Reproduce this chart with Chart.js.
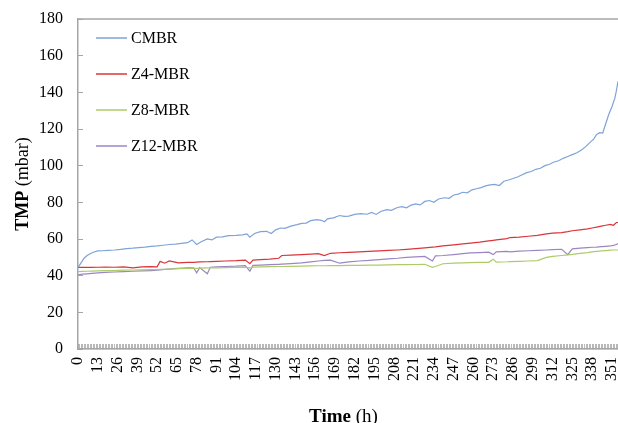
<!DOCTYPE html>
<html>
<head>
<meta charset="utf-8">
<script src="https://cdn.jsdelivr.net/npm/chart.js@4.4.1/dist/chart.umd.min.js"></script>
<style>
    html, body { margin: 0; padding: 0; background: #fff; }
    #wrap { width: 618px; height: 423px; overflow: hidden; }
    canvas { display: block; }
</style>
</head>
<body>
<div id="wrap"><canvas id="chart" width="621" height="423"></canvas></div>
<script>
// time (h) of each reading, membrane reactors
const hours = [
    0, 3, 6, 9, 13, 18, 24, 30, 36, 42,
    48, 52, 54, 57, 60, 63, 66, 72, 76, 78,
    80, 85, 87, 91, 97, 104, 110, 113, 115, 120,
    126, 132, 134, 140, 147, 153, 158, 162, 166, 172,
    178, 185, 191, 198, 204, 210, 216, 222, 228, 233,
    235, 240, 247, 253, 258, 264, 270, 273, 275, 282,
    284, 290, 296, 302, 308, 312, 318, 322, 325, 330,
    335, 338, 341, 344, 347, 350, 352, 354, 355,
];

// time (h) of each CMBR reading (noisier, read more often)
const cmbrHours = [
    0, 2, 4, 6, 8, 10, 13, 16, 20, 24,
    28, 32, 36, 40, 44, 48, 52, 56, 60, 64,
    68, 72, 75, 78, 81, 85, 88, 91, 95, 99,
    104, 108, 111, 113, 116, 120, 124, 127, 130, 133,
    136, 140, 144, 147, 150, 153, 157, 160, 162, 164,
    168, 172, 175, 178, 182, 186, 190, 193, 196, 199,
    203, 206, 210, 213, 216, 219, 222, 225, 228, 231,
    234, 237, 241, 244, 247, 250, 253, 256, 259, 262,
    265, 268, 271, 274, 277, 280, 283, 286, 289, 292,
    295, 298, 301, 304, 307, 310, 313, 316, 319, 322,
    325, 328, 331, 334, 337, 339, 341, 343, 345, 347,
    349, 351, 353, 354, 355,
];

// TMP (mbar) per reactor
const cmbr = [
    44.5, 47, 49.5, 51, 52, 52.8, 53.5, 53.6, 53.8, 54,
    54.3, 54.8, 55, 55.3, 55.6, 56, 56.2, 56.6, 57, 57.2,
    57.6, 58, 59.5, 57, 58.5, 60, 59.5, 61, 61.2, 61.8,
    62, 62.3, 62.8, 61, 63, 64, 64.2, 63, 65, 66,
    65.8, 67, 67.8, 68.5, 68.7, 70, 70.6, 70.2, 69.4, 71,
    71.5, 72.8, 72.3, 72.5, 73.4, 73.8, 73.5, 74.5, 73.4, 75,
    76, 75.6, 77.2, 77.6, 77, 78.5, 79.2, 78.6, 80.5, 81,
    80, 81.8, 82.5, 82.2, 84, 84.5, 85.5, 85.2, 86.8, 87.4,
    88, 89, 89.5, 89.8, 89.2, 91.5, 92.2, 93, 93.8, 95,
    96.2, 96.8, 98, 98.6, 100, 100.8, 102, 102.7, 104, 105,
    106, 107, 108.5, 110.5, 113, 114.5, 117, 118, 117.8, 123,
    128, 132, 137, 141, 146,
];
const z4 = [
    44.5, 44.5, 44.6, 44.5, 44.6, 44.7, 44.6, 44.8, 44.3, 44.8,
    44.9, 44.8, 47.8, 46.8, 48, 47.5, 47, 47.2, 47.3, 47.4,
    47.5, 47.6, 47.7, 47.8, 48, 48.2, 48.5, 46.5, 48.5, 48.8,
    49, 49.5, 51, 51.2, 51.5, 51.8, 52, 51, 52.2, 52.5,
    52.7, 53, 53.2, 53.5, 53.8, 54, 54.3, 54.7, 55.2, 55.6,
    55.7, 56.2, 56.8, 57.3, 57.8, 58.3, 59, 59.3, 59.5, 60.2,
    60.8, 61, 61.5, 62, 62.8, 63.2, 63.5, 64, 64.5, 65,
    65.5, 66, 66.5, 67, 67.5, 68, 67.5, 69, 69,
];
const z8 = [
    42.2, 42.3, 42.4, 42.5, 42.6, 42.7, 42.8, 43, 43.1, 43.2,
    43.3, 43.4, 43.5, 43.5, 43.6, 43.7, 43.8, 43.9, 44, 44,
    44.1, 44.2, 44.2, 44.3, 44.4, 44.5, 44.6, 44.2, 44.7, 44.8,
    44.9, 45, 45, 45.1, 45.2, 45.3, 45.4, 45.4, 45.5, 45.5,
    45.6, 45.6, 45.7, 45.8, 45.9, 46, 46, 46.1, 46.2, 44.5,
    45, 46.5, 46.8, 47, 47.1, 47.2, 47.3, 49, 47.4, 47.6,
    47.7, 47.8, 48, 48.2, 50, 50.5, 51, 51.3, 51.6, 52.2,
    52.6, 53, 53.3, 53.5, 53.7, 53.9, 54, 54, 54,
];
const z12 = [
    40.5, 40.8, 41, 41.2, 41.5, 41.8, 42, 42.2, 42.4, 42.6,
    42.8, 43, 43.2, 43.4, 43.6, 43.8, 44, 44.2, 44.3, 41.5,
    44.4, 41, 44.6, 44.8, 45, 45.2, 45.5, 42.5, 45.6, 45.8,
    46, 46.2, 46.3, 46.6, 47, 47.5, 48, 48.3, 48.5, 46.8,
    47.5, 48, 48.3, 48.8, 49.2, 49.5, 50, 50.3, 50.5, 48,
    50.8, 51, 51.5, 52, 52.4, 52.6, 52.8, 51.5, 53, 53.2,
    53, 53.4, 53.6, 53.8, 54, 54.2, 54.4, 51.5, 54.6, 55,
    55.3, 55.5, 55.6, 55.8, 56, 56.2, 56.5, 57, 57.5,
];

const seriesNames = ['CMBR', 'Z4-MBR', 'Z8-MBR', 'Z12-MBR'];
const seriesColours = ['#7ea3d9', '#d9363b', '#aecb6a', '#9b86c4'];
const seriesHours = [cmbrHours, hours, hours, hours];
const seriesValues = [cmbr, z4, z8, z12];

// axis ranges and labels
const yMax = 180;
const yStep = 20;
const xMax = 357;
const xLabelEvery = 13;

const serif = '"Liberation Serif", "Times New Roman", serif';
const axisGrey = '#a6a6a6';

function toPoints(xs, values) {
    return xs.map((h, i) => ({ x: h, y: values[i] }));
}

// bold + regular title, drawn as one line
function drawMixedTitle(ctx, boldText, plainText, size) {
    ctx.font = 'bold ' + size + 'px ' + serif;
    let wb = ctx.measureText(boldText).width;
    ctx.font = size + 'px ' + serif;
    let wp = ctx.measureText(plainText).width;
    let x0 = -(wb + wp) / 2;
    ctx.font = 'bold ' + size + 'px ' + serif;
    ctx.fillText(boldText, x0, 0);
    ctx.font = size + 'px ' + serif;
    ctx.fillText(plainText, x0 + wb, 0);
}

const framePlugin = {
    id: 'frame',
    afterDraw(chart) {
        const ctx = chart.ctx;
        const area = chart.chartArea;
        ctx.save();

        // top border of plot area
        ctx.strokeStyle = axisGrey;
        ctx.lineWidth = 1.5;
        ctx.beginPath();
        ctx.moveTo(area.left, area.top);
        ctx.lineTo(area.right, area.top);
        ctx.stroke();

        // legend inside the plot
        ctx.textBaseline = 'middle';
        ctx.textAlign = 'left';
        ctx.font = '16px ' + serif;
        chart.data.datasets.forEach((ds, i) => {
            let y = area.top + 19 + i * 36;
            ctx.strokeStyle = ds.borderColor;
            ctx.lineWidth = 1.5;
            ctx.beginPath();
            ctx.moveTo(area.left + 18, y);
            ctx.lineTo(area.left + 49, y);
            ctx.stroke();
            ctx.fillStyle = '#000';
            ctx.fillText(ds.label, area.left + 53, y + 1);
        });

        // axis titles
        ctx.fillStyle = '#000';
        ctx.textBaseline = 'alphabetic';
        ctx.save();
        ctx.translate(28, (area.top + area.bottom) / 2);
        ctx.rotate(-Math.PI / 2);
        drawMixedTitle(ctx, 'TMP', ' (mbar)', 18);
        ctx.restore();

        ctx.save();
        ctx.translate((area.left + area.right) / 2 - 6, 422);
        drawMixedTitle(ctx, 'Time', ' (h)', 19);
        ctx.restore();

        ctx.restore();
    },
};

new Chart(document.getElementById('chart'), {
    type: 'line',
    data: {
        datasets: seriesNames.map((name, i) => ({
            label: name,
            data: toPoints(seriesHours[i], seriesValues[i]),
            borderColor: seriesColours[i],
            backgroundColor: seriesColours[i],
            borderWidth: 1.2,
            pointRadius: 0,
            tension: 0,
        })),
    },
    options: {
        responsive: false,
        animation: false,
        devicePixelRatio: 1,
        layout: { padding: { left: 0, top: 19, right: 0, bottom: 0 } },
        plugins: {
            legend: { display: false },
            tooltip: { enabled: false },
        },
        scales: {
            x: {
                type: 'linear',
                min: 0,
                max: xMax,
                grid: {
                    drawOnChartArea: false,
                    tickLength: -5,
                    tickColor: '#b8b8b8',
                    tickWidth: 1,
                },
                border: { color: axisGrey, width: 1.5 },
                ticks: {
                    stepSize: 1,
                    autoSkip: false,
                    minRotation: 90,
                    maxRotation: 90,
                    padding: 13,
                    color: '#000',
                    font: { family: serif, size: 16 },
                    callback: (value) => (value % xLabelEvery === 0 ? String(value) : ''),
                },
                afterFit: (scale) => {
                    scale.height = 74;
                    scale.paddingLeft = 0;
                    scale.paddingRight = 0;
                },
            },
            y: {
                min: 0,
                max: yMax,
                grid: {
                    drawOnChartArea: false,
                    tickLength: -5,
                    tickColor: axisGrey,
                    tickWidth: 1,
                },
                border: { color: axisGrey, width: 1.5 },
                ticks: {
                    stepSize: yStep,
                    padding: 20,
                    color: '#000',
                    font: { family: serif, size: 16 },
                },
                afterFit: (scale) => {
                    scale.width = 78;
                    scale.paddingTop = 0;
                    scale.paddingBottom = 0;
                },
            },
        },
    },
    plugins: [framePlugin],
});
</script>
</body>
</html>
